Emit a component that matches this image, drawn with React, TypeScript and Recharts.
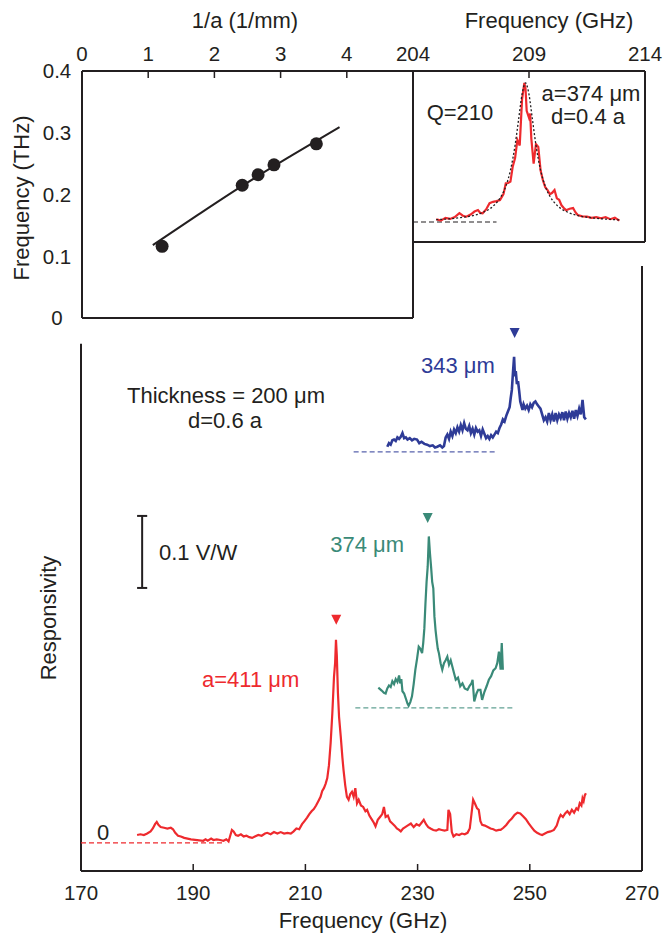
import React from 'react';
import { ComposedChart, Line, Scatter, XAxis, YAxis, ReferenceLine } from 'recharts';

// ---- main plot: responsivity spectra (GHz, V/W above each trace's own zero) ----
const redTrace: [number, number][] = [
  [180.0, 0.011], [180.6, 0.012], [181.2, 0.011], [181.8, 0.013], [182.4, 0.016], [182.8, 0.020],
  [183.2, 0.026], [183.5, 0.029], [183.8, 0.025], [184.2, 0.022], [184.8, 0.021], [185.4, 0.020],
  [186.0, 0.021], [186.4, 0.019], [186.8, 0.014], [187.3, 0.010], [187.8, 0.009], [188.4, 0.007],
  [189.0, 0.006], [189.6, 0.005], [191.8, 0.003], [192.2, 0.005], [192.6, 0.003], [193.2, 0.006],
  [193.6, 0.004], [194.2, 0.005], [194.8, 0.004], [195.4, 0.003], [195.9, 0.005], [196.3, 0.002],
  [196.6, 0.010], [196.9, 0.018], [197.2, 0.016], [197.6, 0.011], [198.0, 0.010], [198.5, 0.012],
  [199.0, 0.009], [199.5, 0.010], [200.0, 0.008], [200.5, 0.007], [201.0, 0.009], [201.6, 0.011],
  [202.2, 0.010], [202.8, 0.013], [203.2, 0.014], [203.8, 0.012], [204.4, 0.015], [205.0, 0.013],
  [205.6, 0.015], [206.2, 0.013], [206.8, 0.014], [207.4, 0.013], [207.9, 0.016], [208.4, 0.020],
  [208.9, 0.019], [209.4, 0.026], [209.8, 0.030], [210.3, 0.035], [210.7, 0.040], [211.1, 0.044],
  [211.5, 0.047], [211.9, 0.052], [212.3, 0.058], [212.7, 0.064], [213.0, 0.072], [213.3, 0.076],
  [213.6, 0.082], [213.9, 0.090], [214.2, 0.108], [214.5, 0.139], [214.8, 0.180], [215.1, 0.231],
  [215.3, 0.250], [215.45, 0.282], [215.6, 0.260], [215.8, 0.208], [216.0, 0.175], [216.3, 0.148],
  [216.6, 0.118], [216.8, 0.101], [217.1, 0.080], [217.4, 0.064], [217.7, 0.060], [218.0, 0.068],
  [218.3, 0.071], [218.6, 0.064], [218.9, 0.076], [219.2, 0.055], [219.5, 0.060], [219.9, 0.052],
  [220.3, 0.050], [220.7, 0.044], [221.0, 0.046], [221.4, 0.038], [221.8, 0.033], [222.2, 0.028],
  [222.5, 0.023], [222.9, 0.032], [223.3, 0.036], [223.7, 0.040], [224.0, 0.050], [224.3, 0.036],
  [224.7, 0.038], [225.1, 0.030], [225.5, 0.027], [225.9, 0.024], [226.3, 0.020], [226.7, 0.018],
  [227.0, 0.016], [227.4, 0.020], [227.8, 0.022], [228.2, 0.024], [228.8, 0.027], [229.3, 0.022],
  [229.8, 0.026], [230.3, 0.024], [230.7, 0.028], [231.1, 0.032], [231.5, 0.026], [231.9, 0.022],
  [232.3, 0.020], [232.8, 0.018], [233.3, 0.017], [233.8, 0.019], [234.3, 0.018], [234.8, 0.017],
  [235.3, 0.018], [235.5, 0.046], [235.8, 0.040], [236.1, 0.015], [236.4, 0.009], [236.9, 0.012],
  [237.4, 0.011], [237.9, 0.013], [238.4, 0.012], [238.9, 0.014], [239.3, 0.020], [239.6, 0.040],
  [239.9, 0.060], [240.2, 0.055], [240.6, 0.048], [240.9, 0.046], [241.2, 0.030], [241.5, 0.025],
  [242.0, 0.024], [242.5, 0.022], [243.0, 0.020], [243.5, 0.019], [244.0, 0.017], [244.5, 0.018],
  [244.8, 0.018], [245.3, 0.021], [245.8, 0.025], [246.3, 0.030], [246.8, 0.034], [247.3, 0.039],
  [247.8, 0.042], [248.3, 0.041], [248.8, 0.037], [249.3, 0.033], [249.8, 0.027], [250.3, 0.022],
  [250.8, 0.017], [251.3, 0.014], [251.8, 0.012], [252.2, 0.011], [252.7, 0.013], [253.2, 0.015],
  [253.7, 0.016], [254.3, 0.018], [254.8, 0.024], [255.2, 0.034], [255.5, 0.039], [255.9, 0.036],
  [256.3, 0.041], [256.7, 0.044], [257.1, 0.040], [257.5, 0.046], [257.9, 0.042], [258.3, 0.048],
  [258.6, 0.046], [258.9, 0.055], [259.2, 0.052], [259.4, 0.062], [259.6, 0.058], [259.8, 0.066],
  [260.0, 0.069],
];

const greenTrace: [number, number][] = [
  [223.0, 0.028], [223.3, 0.026], [223.6, 0.024], [224.0, 0.021], [224.3, 0.020], [224.6, 0.027],
  [224.9, 0.031], [225.2, 0.029], [225.5, 0.037], [225.8, 0.033], [226.1, 0.040], [226.4, 0.036],
  [226.7, 0.045], [226.9, 0.034], [227.1, 0.040], [227.3, 0.023], [227.6, 0.020], [227.9, 0.013],
  [228.2, 0.006], [228.4, 0.003], [228.7, 0.008], [229.0, 0.016], [229.3, 0.033], [229.6, 0.053],
  [229.9, 0.068], [230.2, 0.085], [230.5, 0.082], [230.8, 0.076], [231.0, 0.090], [231.2, 0.110],
  [231.4, 0.145], [231.6, 0.175], [231.8, 0.196], [232.0, 0.238], [232.2, 0.215], [232.4, 0.196],
  [232.6, 0.175], [232.8, 0.166], [233.0, 0.127], [233.2, 0.108], [233.4, 0.094], [233.6, 0.082],
  [233.8, 0.076], [234.1, 0.062], [234.4, 0.053], [234.7, 0.062], [235.0, 0.066], [235.3, 0.071],
  [235.6, 0.060], [235.9, 0.066], [236.2, 0.057], [236.5, 0.048], [236.8, 0.039], [237.2, 0.042],
  [237.6, 0.030], [238.0, 0.034], [238.4, 0.027], [238.9, 0.025], [239.3, 0.031], [239.6, 0.034],
  [239.8, 0.039], [240.1, 0.009], [240.5, 0.020], [240.8, 0.025], [241.2, 0.025], [241.5, 0.011],
  [241.9, 0.022], [242.3, 0.030], [242.7, 0.039], [243.1, 0.044], [243.5, 0.052], [243.9, 0.055],
  [244.2, 0.062], [244.5, 0.078], [244.8, 0.053], [245.0, 0.090], [245.2, 0.053],
];

const blueTrace: [number, number][] = [
  [224.6, 0.007], [224.9, 0.012], [225.2, 0.010], [225.5, 0.016], [225.8, 0.017], [226.1, 0.015],
  [226.4, 0.020], [226.7, 0.018], [227.0, 0.021], [227.3, 0.026], [227.6, 0.019], [227.9, 0.020],
  [228.2, 0.017], [228.6, 0.019], [229.0, 0.016], [229.4, 0.018], [229.9, 0.017], [230.3, 0.012],
  [230.7, 0.014], [231.2, 0.011], [231.7, 0.010], [232.2, 0.008], [232.7, 0.009], [233.1, 0.006],
  [233.5, 0.007], [234.0, 0.009], [234.4, 0.006], [234.7, 0.008], [235.0, 0.020], [235.3, 0.024],
  [235.6, 0.018], [235.9, 0.028], [236.2, 0.022], [236.5, 0.031], [236.8, 0.026], [237.1, 0.034],
  [237.4, 0.028], [237.7, 0.037], [238.0, 0.030], [238.3, 0.040], [238.6, 0.032], [238.9, 0.030],
  [239.2, 0.036], [239.5, 0.026], [239.8, 0.032], [240.1, 0.024], [240.4, 0.033], [240.7, 0.028],
  [241.0, 0.030], [241.3, 0.022], [241.6, 0.031], [241.9, 0.025], [242.2, 0.019], [242.5, 0.022],
  [242.8, 0.018], [243.1, 0.023], [243.4, 0.020], [243.7, 0.024], [244.0, 0.028], [244.3, 0.026],
  [244.6, 0.033], [244.9, 0.038], [245.2, 0.045], [245.5, 0.042], [245.8, 0.050], [246.1, 0.056],
  [246.4, 0.062], [246.6, 0.075], [246.8, 0.086], [247.0, 0.110], [247.2, 0.132], [247.35, 0.105],
  [247.5, 0.112], [247.7, 0.094], [247.9, 0.098], [248.1, 0.085], [248.3, 0.070], [248.5, 0.064],
  [248.7, 0.058], [248.9, 0.066], [249.2, 0.060], [249.5, 0.064], [249.8, 0.058], [250.1, 0.066],
  [250.4, 0.062], [250.7, 0.068], [251.0, 0.070], [251.3, 0.066], [251.6, 0.063], [251.9, 0.060],
  [252.2, 0.052], [252.5, 0.044], [252.8, 0.048], [253.1, 0.042], [253.4, 0.054], [253.7, 0.044],
  [254.0, 0.052], [254.3, 0.042], [254.6, 0.054], [254.9, 0.044], [255.2, 0.052], [255.5, 0.047],
  [255.8, 0.055], [256.1, 0.044], [256.4, 0.056], [256.7, 0.046], [257.0, 0.054], [257.3, 0.048],
  [257.6, 0.057], [257.9, 0.046], [258.2, 0.058], [258.5, 0.050], [258.8, 0.060], [259.1, 0.052],
  [259.4, 0.072], [259.7, 0.048], [260.0, 0.045],
];

// vertical offsets of the stacked traces (V/W) and their peak markers (GHz)
const traceOffsets = { red: 0, green: 0.1875, blue: 0.543 };
const peakMarks = [
  { f: 215.5, v: 0.31, color: '#ee2a2e' },
  { f: 231.8, v: 0.451, color: '#3a8a78' },
  { f: 247.3, v: 0.708, color: '#2e3b97' },
];
const mainTicks = [170, 190, 210, 230, 250, 270];

// ---- inset: resonance frequency vs 1/a ----
const invA = [1.21, 2.42, 2.66, 2.9, 3.54];
const resFreq = [0.116, 0.215, 0.232, 0.248, 0.282];
const fitInvA = [1.07, 1.75, 2.42, 3.15, 3.89];
const fitFreq = [0.118, 0.167, 0.214, 0.262, 0.309];

// ---- inset: a=374 um resonance, normalised ----
const zoomTrace: [number, number][] = [
  [205.0, 0.02], [205.2, 0.01], [205.4, 0.03], [205.6, 0.022], [205.8, 0.035], [206.0, 0.063],
  [206.15, 0.045], [206.3, 0.038], [206.5, 0.055], [206.65, 0.075], [206.8, 0.086], [206.9, 0.065],
  [207.0, 0.063], [207.15, 0.09], [207.3, 0.135], [207.45, 0.145], [207.6, 0.15], [207.75, 0.158],
  [207.9, 0.2], [208.0, 0.278], [208.1, 0.28], [208.2, 0.29], [208.3, 0.4], [208.4, 0.46],
  [208.5, 0.59], [208.6, 0.55], [208.7, 0.88], [208.8, 1.0], [208.85, 0.96], [208.9, 0.8],
  [209.0, 0.75], [209.05, 0.78], [209.1, 0.6], [209.2, 0.42], [209.3, 0.56], [209.4, 0.54],
  [209.5, 0.37], [209.6, 0.3], [209.7, 0.25], [209.8, 0.23], [209.9, 0.2], [210.0, 0.21],
  [210.1, 0.23], [210.2, 0.17], [210.3, 0.16], [210.4, 0.12], [210.5, 0.1], [210.6, 0.085],
  [210.75, 0.095], [210.9, 0.1], [211.0, 0.07], [211.1, 0.05], [211.3, 0.04], [211.5, 0.038],
  [211.7, 0.03], [211.9, 0.035], [212.1, 0.027], [212.3, 0.035], [212.5, 0.02], [212.7, 0.03],
  [212.9, 0.01],
];
const fitTrace: [number, number][] = [
  [205.0, 0.017], [205.5, 0.022], [206.0, 0.03], [206.5, 0.043], [207.0, 0.068], [207.5, 0.121],
  [207.8, 0.185], [208.0, 0.257], [208.2, 0.372], [208.4, 0.552], [208.55, 0.735], [208.7, 0.917],
  [208.85, 1.0], [209.0, 0.917], [209.15, 0.735], [209.3, 0.552], [209.5, 0.372], [209.7, 0.257],
  [209.9, 0.185], [210.2, 0.121], [210.7, 0.068], [211.2, 0.043], [211.7, 0.03], [212.2, 0.022],
  [212.9, 0.015],
];

const INK = '#231f20';
const RED = '#ee2a2e';
const GREEN = '#3a8a78';
const BLUE = '#2e3b97';
const FONT = '"Liberation Sans", Arial, Helvetica, sans-serif';
const tickStyle = { fontSize: 20.5, fill: INK, fontFamily: FONT };

const toPts = (t: [number, number][], off = 0) => t.map(([f, v]) => ({ f, v: v + off }));

const Triangle = (props: any) => {
  const { cx, cy, payload } = props;
  return <path d={`M${cx - 5},${cy - 5} L${cx + 5},${cy - 5} L${cx},${cy + 5} Z`} fill={payload.color} />;
};
const Dot = (props: any) => <circle cx={props.cx} cy={props.cy} r={6.5} fill={INK} />;

const MainChart = () => (
  <ComposedChart width={664} height={937} margin={{ top: 266, right: 22, bottom: 36, left: 81 }}>
    <XAxis
      type="number" dataKey="f" domain={[170, 270]} ticks={mainTicks} allowDataOverflow
      axisLine={{ stroke: INK, strokeWidth: 2 }} tickLine={{ stroke: INK, strokeWidth: 1.5 }}
      tickSize={-7} tickMargin={21} tick={tickStyle}
    />
    <YAxis hide type="number" domain={[-0.039, 0.801]} allowDataOverflow />
    {/* frame: left axis is shorter than the right one */}
    <ReferenceLine segment={[{ x: 170, y: -0.039 }, { x: 170, y: 0.693 }]} stroke={INK} strokeWidth={2} ifOverflow="visible" />
    <ReferenceLine x={270} stroke={INK} strokeWidth={2} ifOverflow="visible" />
    {/* zero levels */}
    <ReferenceLine segment={[{ x: 170, y: traceOffsets.red }, { x: 195.7, y: traceOffsets.red }]} stroke={RED} strokeWidth={1.2} strokeDasharray="5 3" />
    <ReferenceLine segment={[{ x: 218.9, y: traceOffsets.green }, { x: 247, y: traceOffsets.green }]} stroke={GREEN} strokeOpacity={0.8} strokeWidth={1.2} strokeDasharray="5 3" />
    <ReferenceLine segment={[{ x: 218.6, y: traceOffsets.blue }, { x: 243.9, y: traceOffsets.blue }]} stroke={BLUE} strokeOpacity={0.8} strokeWidth={1.2} strokeDasharray="5 3" />
    {/* 0.1 V/W scale bar */}
    <ReferenceLine segment={[{ x: 180.9, y: 0.354 }, { x: 180.9, y: 0.454 }]} stroke={INK} strokeWidth={2} />
    <ReferenceLine segment={[{ x: 180.0, y: 0.354 }, { x: 181.8, y: 0.354 }]} stroke={INK} strokeWidth={2} />
    <ReferenceLine segment={[{ x: 180.0, y: 0.454 }, { x: 181.8, y: 0.454 }]} stroke={INK} strokeWidth={2} />
    <Line data={toPts(redTrace, traceOffsets.red)} dataKey="v" stroke={RED} strokeWidth={2.2} dot={false} isAnimationActive={false} />
    <Line data={toPts(greenTrace, traceOffsets.green)} dataKey="v" stroke={GREEN} strokeWidth={2.2} dot={false} isAnimationActive={false} />
    <Line data={toPts(blueTrace, traceOffsets.blue)} dataKey="v" stroke={BLUE} strokeWidth={2.6} dot={false} isAnimationActive={false} />
    <Scatter data={peakMarks} dataKey="v" shape={Triangle} isAnimationActive={false} />
  </ComposedChart>
);

const LatticeInset = () => (
  <ComposedChart width={420} height={340} margin={{ top: 41, right: 7, bottom: 22, left: 32 }}>
    <XAxis
      type="number" dataKey="x" orientation="top" domain={[0, 5]} ticks={[0, 1, 2, 3, 4]} height={30}
      axisLine={{ stroke: INK, strokeWidth: 2 }} tickLine={{ stroke: INK, strokeWidth: 1.5 }}
      tickSize={-7} tickMargin={17} tick={tickStyle}
    />
    <YAxis
      type="number" domain={[0, 0.4]} ticks={[0, 0.1, 0.2, 0.3, 0.4]} width={50}
      axisLine={{ stroke: INK, strokeWidth: 2 }} tickLine={false} tickSize={0} tickMargin={25}
      tick={{ ...tickStyle, textAnchor: 'middle' }}
    />
    <ReferenceLine y={0} stroke={INK} strokeWidth={2} ifOverflow="visible" />
    <ReferenceLine x={5} stroke={INK} strokeWidth={2} ifOverflow="visible" />
    <Line data={fitInvA.map((x, i) => ({ x, y: fitFreq[i] }))} dataKey="y" stroke={INK} strokeWidth={2} dot={false} type="monotone" isAnimationActive={false} />
    <Scatter data={invA.map((x, i) => ({ x, y: resFreq[i] }))} dataKey="y" shape={Dot} isAnimationActive={false} />
  </ComposedChart>
);

const ResonanceInset = () => (
  <ComposedChart width={284} height={260} margin={{ top: 41, right: 19, bottom: 18, left: 33 }}>
    <XAxis
      type="number" dataKey="f" orientation="top" domain={[204, 214]} ticks={[204, 209, 214]} height={30}
      axisLine={{ stroke: INK, strokeWidth: 2 }} tickLine={{ stroke: INK, strokeWidth: 1.5 }}
      tickSize={-7} tickMargin={17} tick={tickStyle} allowDataOverflow
    />
    <YAxis hide type="number" domain={[-0.144, 1.086]} allowDataOverflow />
    <ReferenceLine x={204} stroke={INK} strokeWidth={2} ifOverflow="visible" />
    <ReferenceLine x={214} stroke={INK} strokeWidth={2} ifOverflow="visible" />
    <ReferenceLine y={-0.144} stroke={INK} strokeWidth={2} ifOverflow="visible" />
    <ReferenceLine segment={[{ x: 204, y: 0 }, { x: 207.6, y: 0 }]} stroke={INK} strokeWidth={1.2} strokeDasharray="5 3" />
    <Line data={toPts(zoomTrace)} dataKey="v" stroke={RED} strokeWidth={2.2} dot={false} isAnimationActive={false} />
    <Line data={toPts(fitTrace)} dataKey="v" stroke={INK} strokeWidth={1.3} strokeDasharray="2 2" dot={false} type="monotone" isAnimationActive={false} />
  </ComposedChart>
);

const T = (p: { x: number; y: number; c?: string; a?: 'start' | 'middle' | 'end'; r?: boolean; children: React.ReactNode }) => (
  <text
    x={p.x} y={p.y} fill={p.c || INK} fontSize={22} fontFamily={FONT} textAnchor={p.a || 'middle'}
    transform={p.r ? `rotate(-90 ${p.x} ${p.y})` : undefined}
  >
    {p.children}
  </text>
);

const App = () => (
  <div style={{ position: 'absolute', left: 0, top: 0, width: 664, height: 937, background: '#fff', fontFamily: FONT }}>
    <div style={{ position: 'absolute', left: 0, top: 0 }}><MainChart /></div>
    <div style={{ position: 'absolute', left: 0, top: 0 }}><LatticeInset /></div>
    <div style={{ position: 'absolute', left: 380, top: 0 }}><ResonanceInset /></div>
    <svg width={664} height={937} style={{ position: 'absolute', left: 0, top: 0, pointerEvents: 'none' }}>
      <T x={245} y={28}>1/a (1/mm)</T>
      <T x={549} y={28}>Frequency (GHz)</T>
      <T x={29} y={198} r>Frequency (THz)</T>
      <T x={56} y={618} r>Responsivity</T>
      <T x={363} y={928}>Frequency (GHz)</T>
      <T x={460} y={120}>Q=210</T>
      <T x={591} y={101}>a=374 μm</T>
      <T x={588} y={124}>d=0.4 a</T>
      <T x={226} y={403}>Thickness = 200 μm</T>
      <T x={225} y={428}>d=0.6 a</T>
      <T x={159} y={560} a="start">0.1 V/W</T>
      <T x={404} y={552} a="end" c={GREEN}>374 μm</T>
      <T x={421} y={373} a="start" c={BLUE}>343 μm</T>
      <T x={202} y={687} a="start" c={RED}>a=411 μm</T>
      <T x={103} y={840}>0</T>
    </svg>
  </div>
);

export default App;
